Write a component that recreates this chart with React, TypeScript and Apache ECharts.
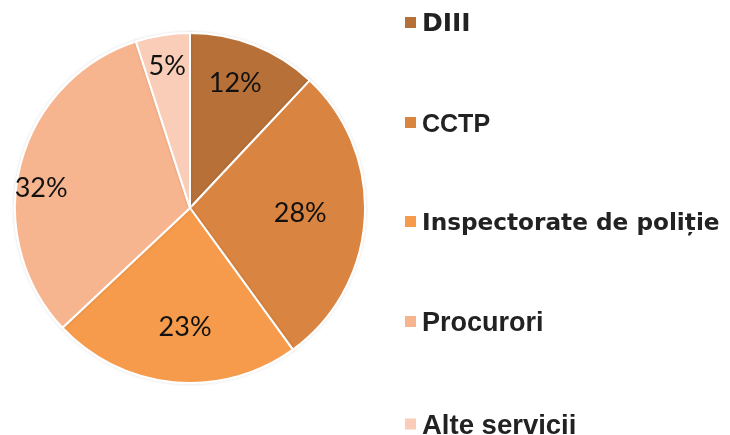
import React, { useEffect, useRef } from "react";
import * as echarts from "echarts";

const categories = ["DIII", "CCTP", "Inspectorate de poliție", "Procurori", "Alte servicii"];
const values = [12, 28, 23, 32, 5];
const colors = ["#B66F37", "#D9843F", "#F69A4B", "#F7B58F", "#F9CDB8"];
const legendFonts = ["DejaVu Sans", "Liberation Sans", "DejaVu Sans", "Liberation Sans", "Liberation Sans"];
const legendSizes = [25, 25, 23.2, 27, 27.5];
const labelRadiusFactor = [0.77, 0.63, 0.67, 0.86, 0.83];
const labelAngleShift = [-2, -2, -3, -6, 0];

const CENTER: [number, number] = [190, 208];
const RADIUS = 175;

export default function App() {
  const ref = useRef<HTMLDivElement>(null);
  useEffect(() => {
    document.body.style.margin = "0";
    const chart = echarts.init(ref.current!, null, { renderer: "svg" });
    const rich: Record<string, any> = {};
    categories.forEach((c, i) => {
      rich["f" + i] = {
        fontFamily: legendFonts[i],
        fontWeight: "bold",
        fontSize: legendSizes[i],
        color: "#222222",
        lineHeight: 30,
      };
    });
    const total = values.reduce((a, b) => a + b, 0);
    const cumul: number[] = [];
    let acc = 0;
    values.forEach((v) => {
      cumul.push(acc + v / 2);
      acc += v;
    });
    chart.setOption({
      animation: false,
      color: colors,
      legend: {
        orient: "vertical",
        left: 403,
        top: 10,
        height: 460,
        padding: 0,
        itemGap: 75,
        itemWidth: 13,
        itemHeight: 13,
        icon: "rect",
        selectedMode: false,
        data: categories,
        formatter: (name: string) => {
          const i = categories.indexOf(name);
          return `{f${i}|${name}}`;
        },
        textStyle: { rich },
      },
      series: [
        {
          type: "pie",
          center: CENTER,
          radius: RADIUS,
          startAngle: 90,
          clockwise: true,
          itemStyle: { borderColor: "#ffffff", borderWidth: 2, shadowBlur: 3, shadowColor: "rgba(0,0,0,0.15)" },
          emphasis: { disabled: true },
          label: {
            show: true,
            position: "inside",
            formatter: "{c}%",
            fontFamily: "Lato",
            fontSize: 27,
            color: "#111111",
          },
          labelLine: { show: false },
          labelLayout: (params: any) => {
            const i = params.dataIndex;
            const ang = ((cumul[i] / total) * 360 + labelAngleShift[i]) * Math.PI / 180;
            const r = RADIUS * labelRadiusFactor[i];
            const tx = CENTER[0] + r * Math.sin(ang);
            const ty = CENTER[1] - r * Math.cos(ang);
            const lr = params.labelRect;
            const cx = lr.x + lr.width / 2;
            const cy = lr.y + lr.height / 2;
            return { dx: tx - cx, dy: ty - cy };
          },
          data: categories.map((c, i) => ({ name: c, value: values[i] })),
        },
      ],
    });
    return () => chart.dispose();
  }, []);
  return <div ref={ref} style={{ position: "fixed", left: 0, top: 0, width: 730, height: 435 }} />;
}
